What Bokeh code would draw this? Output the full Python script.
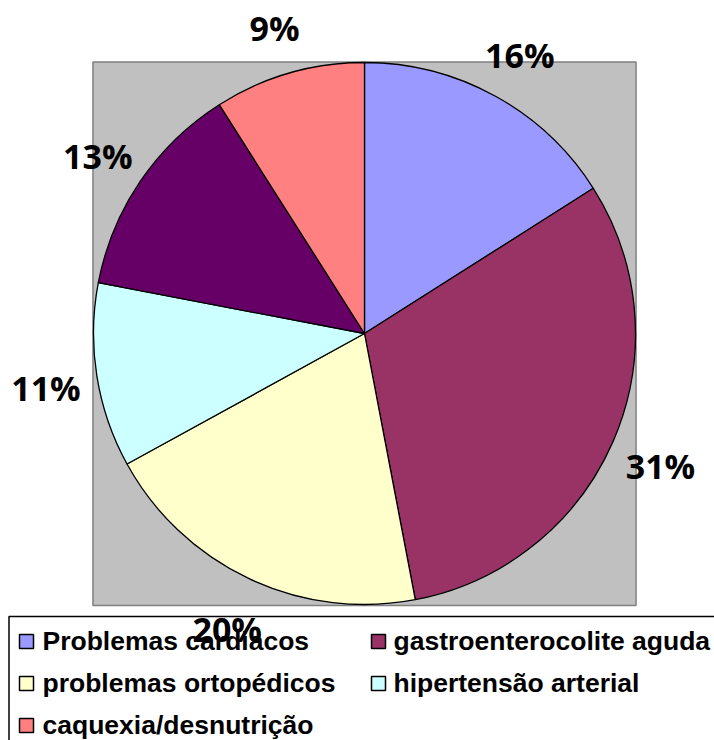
import math
from bokeh.plotting import figure
from bokeh.models import ColumnDataSource
from bokeh.core.properties import value
from bokeh.embed import file_html
from bokeh.resources import INLINE

# ---- data ----
categories = ["Problemas cardiacos", "gastroenterocolite aguda", "problemas ortopédicos",
              "hipertensão arterial", None, "caquexia/desnutrição"]
percentages = [16, 31, 20, 11, 13, 9]
colors = ["#9999FF", "#993366", "#FFFFCC", "#CCFFFF", "#660066", "#FF8080"]

# ---- layout (pixels) ----
W, H = 714, 740
S = 271.0            # pixels per data unit (pie radius = 1)
CX, CY = 364, 333    # pie centre in figure pixels

def X(px):
    return (px - CX) / S

def Y(py):
    return (CY - py) / S

p = figure(width=W, height=H, output_backend="svg", toolbar_location=None,
           x_range=(X(0), X(W)), y_range=(Y(H), Y(0)),
           x_axis_location=None, y_axis_location=None, min_border=0,
           outline_line_color=None, background_fill_color="white",
           border_fill_color="white")
p.grid.visible = False

# plot area (grey square)
p.quad(left=[-1.002], right=[1.002], bottom=[-1.004], top=[1.002],
       fill_color="#C0C0C0", line_color="#808080", line_width=1.5)

# pie slices
total = float(sum(percentages))
starts, ends, mids = [], [], []
cum = 0.0
for v in percentages:
    a0 = math.pi / 2 - 2 * math.pi * cum / total
    cum += v
    a1 = math.pi / 2 - 2 * math.pi * cum / total
    starts.append(a0)
    ends.append(a1)
    mids.append((a0 + a1) / 2)

src = ColumnDataSource(dict(start=starts, end=ends, color=colors))
p.wedge(x=0, y=0, radius=1.0, start_angle="start", end_angle="end",
        direction="clock", fill_color="color", line_color="black",
        line_width=1.3, source=src)

# legend box
p.quad(left=[X(8.5)], right=[X(W + 20)], bottom=[Y(H + 20)], top=[Y(616)],
       fill_color="white", line_color="black", line_width=1.5)

# legend entries (two per row)
lx, ly, tx, ty, lc, lt = [], [], [], [], [], []
k = 0
for name, col in zip(categories, colors):
    if name is None:
        continue
    r, c = divmod(k, 2)
    lx.append(X(26 + c * 352))
    ly.append(Y(641 + r * 42))
    tx.append(X(42 + c * 351))
    ty.append(Y(640 + r * 42))
    lc.append(col)
    lt.append(name)
    k += 1

p.rect(x=lx, y=ly, width=14, height=14, width_units="screen", height_units="screen",
       fill_color=lc, line_color="black", line_width=1.5)
p.text(x=tx, y=ty, text=lt, text_font=value("Liberation Sans"), text_font_style="bold",
       text_font_size="26.5px", text_align="left", text_baseline="alphabetic",
       text_color="black")

# percentage labels
rl = 1.19
labx = [rl * math.cos(m) for m in mids]
laby = [rl * math.sin(m) - 4.0 / S for m in mids]
labt = ["%d%%" % v for v in percentages]
p.text(x=labx, y=laby, text=labt, text_font=value("Open Sans"), text_font_style="bold",
       text_font_size="34px", text_align="center", text_baseline="middle",
       text_color="black")

open("out.html", "w").write(file_html(p, INLINE))
